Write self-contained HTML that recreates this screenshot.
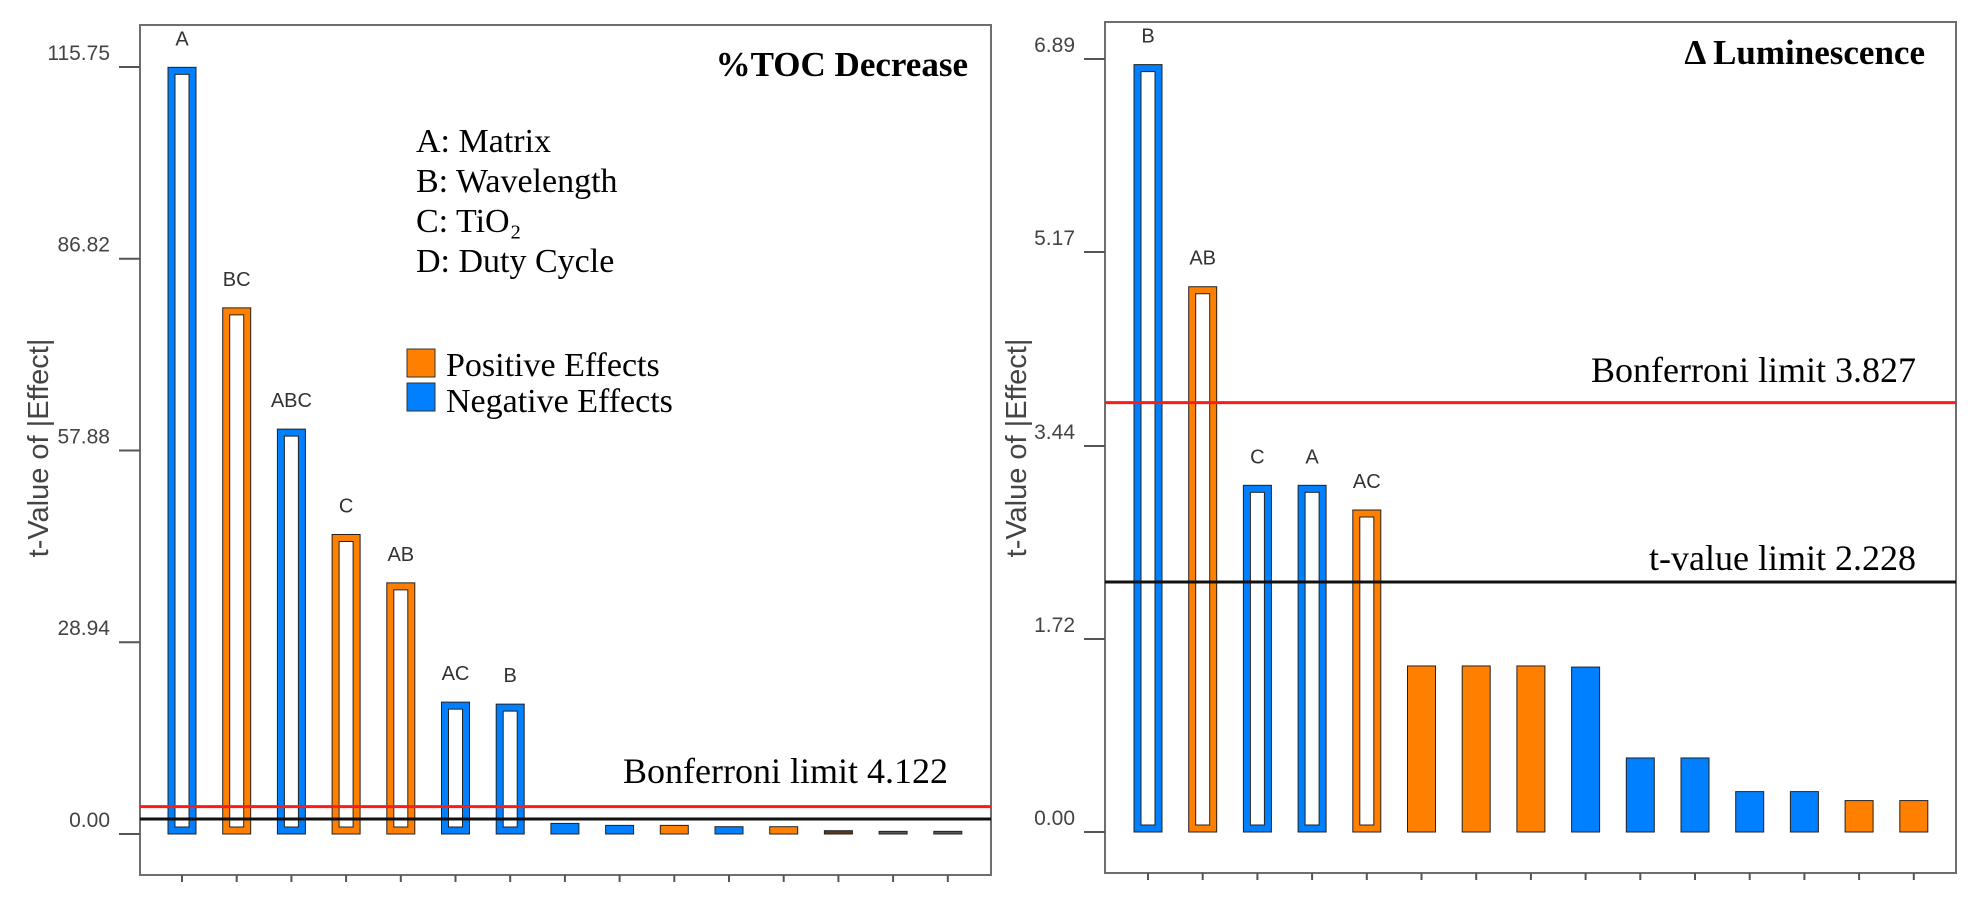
<!DOCTYPE html>
<html><head><meta charset="utf-8"><style>
html,body{margin:0;padding:0;background:#fff;}
svg{display:block;}
</style></head><body>
<svg id="chart" width="1980" height="902" viewBox="0 0 1980 902" xmlns="http://www.w3.org/2000/svg">
<g id="left"></g>
<g id="right"></g>
</svg>
<script>
// ---- Left chart data (%TOC Decrease)
const leftLabels = ["A","BC","ABC","C","AB","AC","B","","","","","","","",""];
const leftValues = [115.7,79.4,61.1,45.2,37.9,19.9,19.6,1.6,1.3,1.3,1.1,1.1,0.5,0.4,0.4];
const leftSigns = ["neg","pos","neg","pos","pos","neg","neg","neg","neg","pos","neg","pos","dk1","dk2","dk2"];
const leftTicks = [0,28.94,57.88,86.82,115.75];
const leftTickLabels = ["0.00","28.94","57.88","86.82","115.75"];
const leftLimits = [4.122,2.26];
// ---- Right chart data (Δ Luminescence)
const rightLabels = ["B","AB","C","A","AC","","","","","","","","","",""];
const rightValues = [6.84,4.86,3.09,3.09,2.87,1.48,1.48,1.48,1.47,0.66,0.66,0.36,0.36,0.28,0.28];
const rightSigns = ["neg","pos","neg","neg","pos","pos","pos","pos","neg","neg","neg","neg","neg","pos","pos"];
const rightTicks = [0,1.72,3.44,5.17,6.89];
const rightTickLabels = ["0.00","1.72","3.44","5.17","6.89"];
const rightLimits = [3.827,2.228];

const NS="http://www.w3.org/2000/svg";
const COL={pos:"#ff8000",neg:"#0080ff",dk1:"#5a3a1a",dk2:"#555555"};
function mk(parent,tag,attrs,text){const e=document.createElementNS(NS,tag);for(const k in attrs)e.setAttribute(k,attrs[k]);if(text!==undefined)e.textContent=text;parent.appendChild(e);return e;}

function draw(g,cfg){
  const {L,T,R,B,y0,yMax,vMax,x0,step,labels,values,signs,ticks,tickLabels,limits}=cfg;
  const y=v=>y0-(v/vMax)*(y0-yMax);
  const x=i=>x0+i*step;
  let e=mk(g,"rect",{x:L,y:T,width:R-L,height:B-T,fill:"none",stroke:"#6e6e6e","stroke-width":2});
  
  ticks.forEach((t,i)=>{
    let tl=mk(g,"line",{x1:L-21,x2:L,y1:y(t),y2:y(t),stroke:"#555","stroke-width":2});
    
    let tx=mk(g,"text",{x:L-30,y:y(t)-7,"text-anchor":"end","font-family":"Liberation Sans, sans-serif","font-size":cfg.tickFs,fill:"#444"},tickLabels[i]);
    
  });
  values.forEach((v,i)=>{
    const cx=x(i),w=28,top=y(v),h=y0-top;
    let tk=mk(g,"line",{x1:cx,x2:cx,y1:B,y2:B+7,stroke:"#555","stroke-width":2});
    
    const hollow=labels[i]!=="";
    let r=mk(g,"rect",{x:cx-w/2,y:top,width:w,height:Math.max(h,2),fill:COL[signs[i]],stroke:"#222","stroke-width":1});
    
    if(hollow){
      let ir=mk(g,"rect",{x:cx-7,y:top+7,width:14,height:Math.max(h-14,0),fill:"#fff",stroke:"#222","stroke-width":1});
      
      let lb=mk(g,"text",{x:cx,y:top-22,"text-anchor":"middle","font-family":"Liberation Sans, sans-serif","font-size":20,fill:"#333"},labels[i]);
      
    }
  });
  let red=mk(g,"line",{x1:L,x2:R,y1:y(limits[0]),y2:y(limits[0]),stroke:"#ff1a1a","stroke-width":3});
  
  let blk=mk(g,"line",{x1:L,x2:R,y1:y(limits[1]),y2:y(limits[1]),stroke:"#111","stroke-width":3});
  
  let at=mk(g,"text",{transform:`translate(${cfg.axX},${cfg.axY}) rotate(-90)`,"text-anchor":"middle","font-family":"Liberation Sans, sans-serif","font-size":29,fill:"#444"},"t-Value of |Effect|");
  
  return y;
}

const gl=document.getElementById("left");
const yl=draw(gl,{L:140,T:25,R:991,B:875,y0:834,yMax:67,vMax:115.75,x0:182,step:54.7,labels:leftLabels,values:leftValues,signs:leftSigns,ticks:leftTicks,tickLabels:leftTickLabels,limits:leftLimits,tickFs:21,axX:48,axY:448});
const gr=document.getElementById("right");
const yr=draw(gr,{L:1105,T:22,R:1956,B:873,y0:832,yMax:59,vMax:6.89,x0:1148,step:54.7,labels:rightLabels,values:rightValues,signs:rightSigns,ticks:rightTicks,tickLabels:rightTickLabels,limits:rightLimits,tickFs:21,axX:1026,axY:448});

function txt(g,name,attrs,t){let e=mk(g,"text",Object.assign({"font-family":"Liberation Serif, serif",fill:"#000"},attrs),t);return e;}
txt(gl,"chart-title",{x:968,y:76,"text-anchor":"end","font-size":35,"font-weight":"bold"},"%TOC Decrease");
["A: Matrix","B: Wavelength","C: TiO\u2082","D: Duty Cycle"].forEach((s,i)=>txt(gl,"factor-key",{x:416,y:152+i*40,"font-size":34},s));
let lb1=mk(gl,"rect",{x:407,y:349,width:28,height:28,fill:"#ff8000",stroke:"#333","stroke-width":1});

let lb2=mk(gl,"rect",{x:407,y:383,width:28,height:28,fill:"#0080ff",stroke:"#333","stroke-width":1});

txt(gl,"legend-positive",{x:446,y:376,"font-size":34},"Positive Effects");
txt(gl,"legend-negative",{x:446,y:412,"font-size":34},"Negative Effects");
txt(gl,"bonferroni-label",{x:948,y:783,"text-anchor":"end","font-size":36},"Bonferroni limit 4.122");
txt(gr,"chart-title",{x:1925,y:64,"text-anchor":"end","font-size":35,"font-weight":"bold"},"\u0394 Luminescence");
txt(gr,"bonferroni-label",{x:1916,y:382,"text-anchor":"end","font-size":36},"Bonferroni limit 3.827");
txt(gr,"t-value-label",{x:1916,y:570,"text-anchor":"end","font-size":36},"t-value limit 2.228");
</script>
</body></html>
